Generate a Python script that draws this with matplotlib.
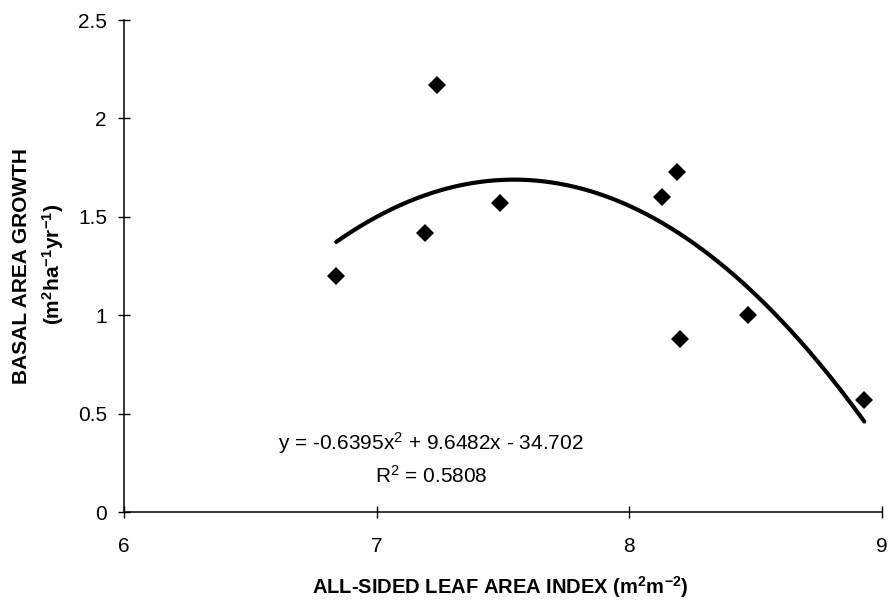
import matplotlib
matplotlib.use("Agg")
import matplotlib.pyplot as plt
import numpy as np
from matplotlib.ticker import FuncFormatter

# leaf area index vs. basal area growth, one point per stand
lai = [6.84, 7.19, 7.24, 7.49, 8.13, 8.19, 8.20, 8.47, 8.93]
growth = [1.20, 1.42, 2.17, 1.57, 1.60, 1.73, 0.88, 1.00, 0.57]

# quadratic fit reported on the chart
coef = [-0.6395, 9.6482, -34.702]
r2 = 0.5808

x_ticks = [6, 7, 8, 9]
y_ticks = [0, 0.5, 1, 1.5, 2, 2.5]

plt.rcParams["font.family"] = ["Liberation Sans", "DejaVu Sans"]
plt.rcParams["mathtext.fontset"] = "custom"
plt.rcParams["mathtext.rm"] = "Liberation Sans"
plt.rcParams["mathtext.bf"] = "Liberation Sans:bold"
plt.rcParams["mathtext.default"] = "rm"

fig = plt.figure(figsize=(8.9, 6.03), dpi=100)
ax = fig.add_axes([124 / 890, 1 - 512 / 603, (882 - 124) / 890, (512 - 20) / 603])

ax.plot(lai, growth, "D", color="black", ms=8.8, mew=0, zorder=3)

xs = np.linspace(min(lai), max(lai), 200)
ax.plot(xs, np.polyval(coef, xs), color="black", lw=3.0, solid_capstyle="round")

ax.set_xlim(6, 9)
ax.set_ylim(0, 2.5)
ax.set_xticks(x_ticks)
ax.set_yticks(y_ticks)
fmt = FuncFormatter(lambda v, p: f"{v:g}")
ax.xaxis.set_major_formatter(fmt)
ax.yaxis.set_major_formatter(fmt)

for side in ("top", "right"):
    ax.spines[side].set_visible(False)
for side in ("left", "bottom"):
    ax.spines[side].set_linewidth(1.1)

ax.tick_params(axis="both", direction="inout", length=8.5, width=1.0,
               labelsize=15)
ax.tick_params(axis="x", pad=14)
ax.tick_params(axis="y", pad=8)

eq = (f"y = {coef[0]:.4f}x$^{{2}}$ + {coef[1]:.4f}x - {abs(coef[2]):.3f}")
ax.text(7.215, 0.35, eq, ha="center", va="center", fontsize=15)
ax.text(7.215, 0.185, f"R$^{{2}}$ = {r2:.4f}", ha="center", va="center",
        fontsize=15)

fig.text(500 / 890, 1 - 587 / 603,
         r"ALL-SIDED LEAF AREA INDEX (m$^{\mathbf{2}}$m$^{\mathbf{-2}}$)",
         ha="center", va="center", fontsize=14.5, fontweight="bold")
fig.text(22 / 890, 1 - 266 / 603, "BASAL AREA GROWTH", rotation=90,
         ha="center", va="center", fontsize=15, fontweight="bold")
fig.text(53 / 890, 1 - 264 / 603,
         r"(m$^{\mathbf{2}}$ha$^{\mathbf{-1}}$yr$^{\mathbf{-1}}$)",
         rotation=90, ha="center", va="center", fontsize=15,
         fontweight="bold")

fig.savefig("out.png", dpi=100)
